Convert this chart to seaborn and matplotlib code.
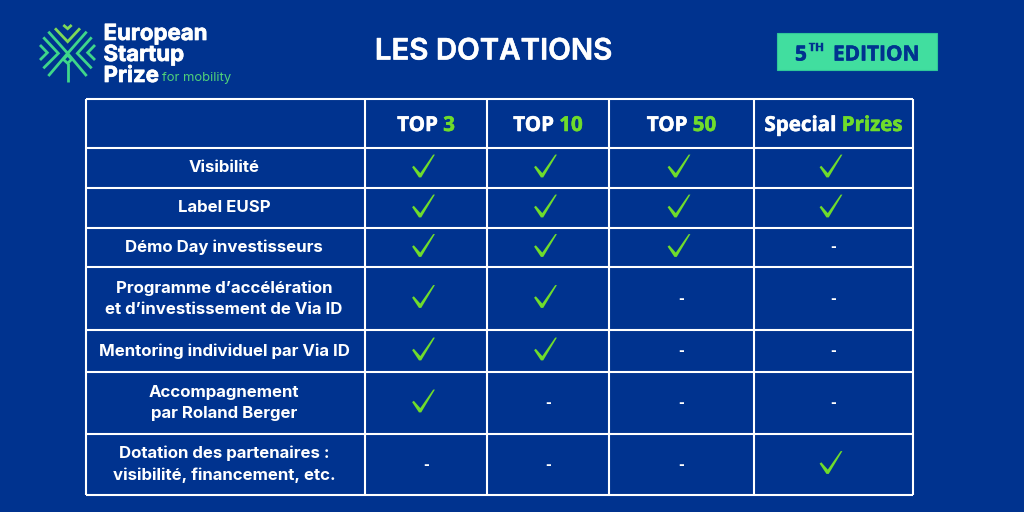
import matplotlib
matplotlib.use("Agg")
import matplotlib.pyplot as plt
import matplotlib.patheffects as pe
import pandas as pd
import seaborn as sns
from matplotlib.path import Path
from matplotlib.patches import Rectangle

BG = "#00338f"
GREEN = "#6fdc2b"
MINT = "#41de9f"

columns = [("TOP ", "3"), ("TOP ", "10"), ("TOP ", "50"), ("Special ", "Prizes")]
rows = [
    "Visibilité",
    "Label EUSP",
    "Démo Day investisseurs",
    "Programme d’accélération\net d’investissement de Via ID",
    "Mentoring individuel par Via ID",
    "Accompagnement\npar Roland Berger",
    "Dotation des partenaires :\nvisibilité, financement, etc.",
]
# 1 = check, 0 = dash
awards = [
    [1, 1, 1, 1],
    [1, 1, 1, 1],
    [1, 1, 1, 0],
    [1, 1, 0, 0],
    [1, 1, 0, 0],
    [1, 0, 0, 0],
    [0, 0, 0, 1],
]
col_edges = [86, 365, 487, 609, 754, 913]
row_edges = [99, 148, 188, 228, 267, 330, 372, 434, 495]

# logo strokes, in zoom crop pixels
logo_strokes = [
    ([190, 203, 215], [75, 86, 75]),
    ([165, 203, 240], [85, 125, 85]),
    ([145, 203, 260], [95, 160, 95]),
    ([130, 175, 130], [112, 160, 205]),
    ([275, 232, 275], [112, 160, 205]),
    ([120, 142, 120], [135, 158, 180]),
    ([285, 263, 285], [135, 158, 180]),
    ([203, 145], [160, 228]),
    ([203, 260], [160, 228]),
    ([203, 190, 203, 215, 203], [165, 178, 190, 178, 165]),
    ([203, 203], [190, 247]),
]

sns.set_theme(style="white")
plt.rcParams["font.family"] = ["Inter", "DejaVu Sans"]


def fat(colour, width=0.4):
    return [pe.withStroke(linewidth=width, foreground=colour)]


fig = plt.figure(figsize=(10.24, 5.12), dpi=100, facecolor=BG)
ax = fig.add_axes([0, 0, 1, 1])
ax.set_facecolor(BG)
ax.set_xlim(0, 1024)
ax.set_ylim(512, 0)
ax.axis("off")

# grid
ax.vlines(col_edges, row_edges[0], row_edges[-1], color="white", lw=1.5)
ax.hlines(row_edges, col_edges[0], col_edges[-1], color="white", lw=1.5)

col_mid = [(a + b) / 2 for a, b in zip(col_edges[1:], col_edges[2:])]
row_mid = [(a + b) / 2 for a, b in zip(row_edges[1:], row_edges[2:])]

# row labels
label_mid = (col_edges[0] + col_edges[1]) / 2 - 1.5
for y, label in zip(row_mid, rows):
    ax.text(label_mid, y, label, color="white", ha="center", va="center",
            fontsize=12.1, fontweight="bold", linespacing=1.5)

# column headers, two colours
header_y = (row_edges[0] + row_edges[1]) / 2 + 2
renderer = fig.canvas.get_renderer()
for x, (first, second) in zip(col_mid, columns):
    t1 = ax.text(0, header_y, first.replace(" ", "\u00a0"), color="white", va="center",
                 fontsize=14.8, fontweight="bold", family="Open Sans",
                 path_effects=fat("white"))
    t2 = ax.text(0, header_y, second, color=GREEN, va="center",
                 fontsize=14.8, fontweight="bold", family="Open Sans",
                 path_effects=fat(GREEN))
    w1 = t1.get_window_extent(renderer).width
    w2 = t2.get_window_extent(renderer).width
    left = x - (w1 + w2) / 2
    t1.set_x(left)
    t2.set_x(left + w1)

# checks and dashes
check = Path([(-1.0, -0.1), (-0.85, 0.02), (-0.28, -0.62), (0.85, 1.0), (1.0, 1.0),
              (-0.2, -1.0), (-0.4, -1.0), (-1.0, -0.1)], closed=True)
cells = pd.DataFrame(
    [{"x": x, "y": y, "v": v}
     for y, vals in zip(row_mid, awards)
     for x, v in zip(col_mid, vals)]
)
yes = cells[cells["v"] == 1]
no = cells[cells["v"] == 0]
sns.scatterplot(data=yes, x=yes["x"] - 2.5, y=yes["y"] - 2, marker=check, s=270,
                color=GREEN, edgecolor="none", linewidth=0, ax=ax, legend=False)
for _, cell in no.iterrows():
    ax.text(cell["x"], cell["y"], "-", color="white", ha="center", va="center",
            fontsize=10, fontweight="bold", family="DejaVu Sans")
ax.set_xlabel("")
ax.set_ylabel("")

# title
ax.text(493.5, 52, "LES DOTATIONS", color="white", ha="center", va="center",
        fontsize=21.2, fontweight="semibold", path_effects=fat("white"))

# edition badge
ax.add_patch(Rectangle((777, 33), 160, 37, facecolor=MINT, edgecolor="#2fc79a", lw=0.8))
ax.text(795, 55, "5", color=BG, va="center", fontsize=15, fontweight="bold",
        family="Open Sans", path_effects=fat(BG))
ax.text(809, 48, "TH", color=BG, va="center", fontsize=8, fontweight="bold",
        family="Open Sans", path_effects=fat(BG, 0.3))
ax.text(833, 55, "EDITION", color=BG, va="center", fontsize=15, fontweight="bold",
        family="Open Sans", path_effects=fat(BG))

# logo
for i, (xs, ys) in enumerate(logo_strokes):
    colour = "#7ed957" if i < 2 else "#3fd68a"
    ax.plot([v / 3 for v in xs], [v / 3 for v in ys], color=colour, lw=2,
            solid_joinstyle="miter", solid_capstyle="butt")
for y, word in zip([34, 55, 76], ["European", "Startup", "Prize"]):
    ax.text(103.5, y, word, color="white", va="center", fontsize=16, fontweight="bold",
            path_effects=fat("white", 0.5))
ax.text(162, 78, "for mobility", color="#4fd07a", va="center", fontsize=9.4)

fig.savefig("out.png", dpi=100, facecolor=BG)
